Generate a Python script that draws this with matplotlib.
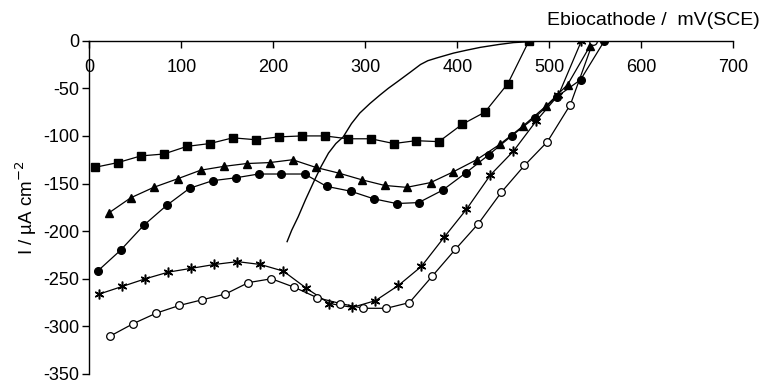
import numpy as np
import matplotlib.pyplot as plt

plt.rcParams['font.family'] = ['Liberation Sans', 'DejaVu Sans']
plt.rcParams['axes.unicode_minus'] = False

# squares
sq_x = [6, 31, 56, 81, 106, 131, 156, 181, 206, 231, 256, 281, 306, 331, 355, 380, 405, 430, 455, 478]
sq_y = [-133, -128, -121, -119, -111, -108, -102, -104, -101, -100, -100, -103, -103, -108, -105, -106,
        -88, -75, -45, 0]

# triangles
tr_x = [21, 45, 70, 96, 121, 146, 171, 196, 221, 246, 271, 296, 321, 345, 371, 395, 421, 446, 471,
        496, 520, 544]
tr_y = [-181, -165, -154, -145, -136, -132, -129, -128, -125, -133, -139, -146, -152, -154, -149,
        -138, -125, -109, -90, -69, -46, -6]

# filled circles
ci_x = [9, 34, 59, 84, 109, 134, 159, 184, 208, 234, 258, 284, 309, 334, 358, 384, 409, 434, 459,
        484, 508, 534, 560]
ci_y = [-242, -220, -194, -173, -155, -147, -144, -140, -140, -140, -153, -158, -166, -171, -170,
        -157, -139, -120, -100, -81, -59, -41, 0]

# asterisks
st_x = [11, 36, 61, 86, 111, 136, 161, 186, 211, 236, 261, 286, 311, 336, 361, 386, 410, 436, 461,
        486, 510, 535]
st_y = [-266, -258, -250, -243, -239, -235, -232, -235, -242, -260, -276, -280, -273, -257, -237,
        -206, -177, -141, -116, -84, -57, 0]

# open circles
oc_x = [23, 48, 73, 98, 123, 148, 173, 198, 223, 248, 273, 298, 323, 348, 373, 398, 423, 448, 473,
        498, 523, 548]
oc_y = [-310, -297, -286, -278, -272, -266, -254, -250, -259, -270, -276, -281, -281, -275, -247,
        -219, -192, -159, -131, -106, -67, 0]

# voltammetry scan
cv_x = [215, 220, 227, 235, 245, 252, 260, 268, 276, 285, 294, 305, 316, 325, 335, 349, 360, 368,
        378, 396, 410, 425, 445, 461, 497, 540, 585]
cv_y = [-211, -199, -185, -167, -146, -132, -118, -108, -101, -87, -76, -66, -57, -50, -43, -33,
        -25, -21, -18, -13, -10, -7, -4, -2, 0, 0, 0]

xticks = [0, 100, 200, 300, 400, 500, 600, 700]
yticks = [0, -50, -100, -150, -200, -250, -300, -350]

fig = plt.figure(figsize=(7.64, 3.8), dpi=100)
ax = fig.add_axes([0.1169, 0.0158, 0.8429, 0.8771])

ax.plot(cv_x, cv_y, color='black', lw=1.0)
lkw = dict(color='black', lw=0.9)
ax.plot(sq_x, sq_y, marker='s', ms=5.5, mfc='black', mec='black', **lkw)
ax.plot(tr_x, tr_y, marker='^', ms=6, mfc='black', mec='black', **lkw)
ax.plot(ci_x, ci_y, marker='o', ms=5.5, mfc='black', mec='black', **lkw)
ax.plot(st_x, st_y, marker=(6, 2, 0), ms=7, mec='black', mew=1.1, **lkw)
ax.plot(oc_x, oc_y, marker='o', ms=5.5, mfc='white', mec='black', mew=0.9, **lkw)

ax.set_xlim(0, 700)
ax.set_ylim(-350, 0)
ax.set_xticks(xticks)
ax.set_yticks(yticks)
ax.spines['bottom'].set_position(('data', 0))
ax.spines['top'].set_visible(False)
ax.spines['right'].set_visible(False)
for s in ['bottom', 'left']:
    ax.spines[s].set_linewidth(1.0)
ax.tick_params(axis='both', direction='out', length=5, width=1.0, labelsize=13)
ax.tick_params(axis='x', pad=8)
ax.tick_params(axis='y', pad=2)
for lab in ax.get_xticklabels():
    lab.set_clip_on(False)

ax.set_ylabel('I / µA cm$^{-2}$', fontsize=13.5, labelpad=3)
fig.text(0.995, 0.945, 'Ebiocathode /  mV(SCE)', ha='right', va='center', fontsize=14)

fig.savefig('out.png', dpi=100)
